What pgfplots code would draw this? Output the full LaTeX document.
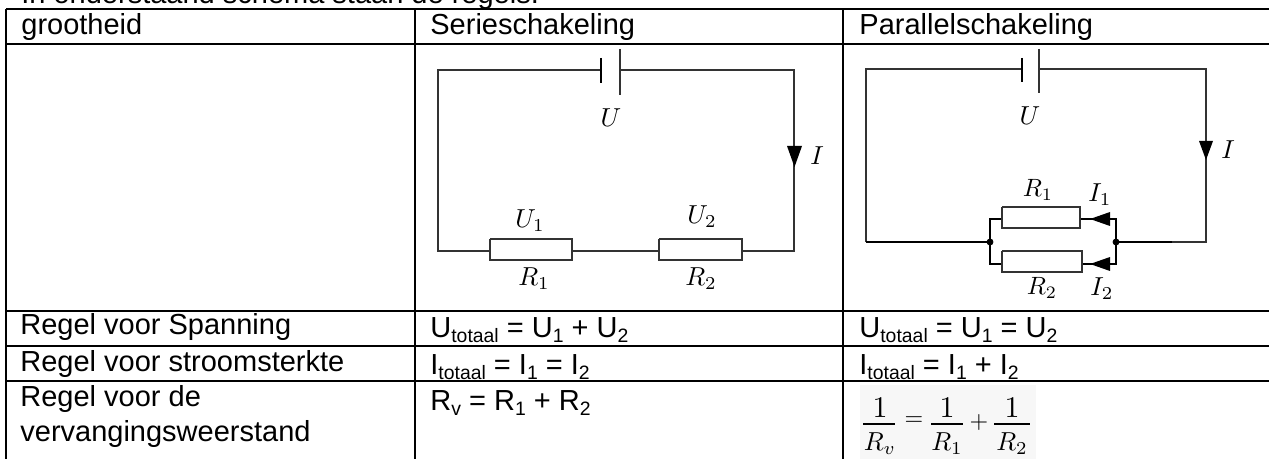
\documentclass[border=0pt]{standalone}
\usepackage{fontspec}
\setmainfont{Liberation Sans}
\usepackage{pgfplots}
\pgfplotsset{compat=1.18}
\newcommand{\sub}[1]{\raisebox{-2.2pt}{\fontsize{9.7}{10}\selectfont #1}}
\definecolor{wire}{gray}{0.2}
\tikzset{txt/.style={anchor=base west, inner sep=0pt, text=black, font=\fontsize{14.5}{17}\selectfont},
	lab/.style={inner sep=0pt, scale=#1}}
\begin{document}
\begin{tikzpicture}
\useasboundingbox (0,0) rectangle (634.5pt,229.5pt);
\clip (0,0) rectangle (634.5pt,229.5pt);
\begin{axis}[
	scale only axis, width=634.5pt, height=229.5pt,
	xmin=0, xmax=1269, ymin=0, ymax=459, y dir=reverse,
	axis lines=none, clip=false,
]
% patch behind the pasted formula
\addplot[fill=black!3, draw=none] coordinates {(860,385) (1036,385) (1036,459) (860,459)};

% table rules
\addplot[black, line width=1pt] coordinates {(6,9) (1269,9)};
\addplot[black, line width=1pt] coordinates {(6,44) (1269,44)};
\addplot[black, line width=1pt] coordinates {(6,311) (1269,311)};
\addplot[black, line width=1pt] coordinates {(6,346) (1269,346)};
\addplot[black, line width=1pt] coordinates {(6,381) (1269,381)};
\addplot[black, line width=1pt] coordinates {(6,9) (6,459)};
\addplot[black, line width=1pt] coordinates {(415,9) (415,459)};
\addplot[black, line width=1pt] coordinates {(843,9) (843,459)};

% series circuit
\addplot[wire, line width=.6pt] coordinates {(601,70) (438,70) (438,251) (490,251)};
\addplot[wire, line width=.6pt] coordinates {(620,70) (794,70) (794,251) (742,251)};
\addplot[wire, line width=.6pt] coordinates {(572,251) (659,251)};
\addplot[wire, line width=.7pt] coordinates {(490,239) (572,239) (572,260) (490,260) (490,239)};
\addplot[wire, line width=.7pt] coordinates {(659,239) (742,239) (742,260) (659,260) (659,239)};
\addplot[black, line width=1.2pt] coordinates {(601,58) (601,83)};
\addplot[wire, line width=.6pt] coordinates {(620,49) (620,95)};
\addplot[fill=black, draw=none] coordinates {(787,146) (802,146) (794.5,167)};

% parallel circuit
\addplot[wire, line width=.7pt] coordinates {(1022,69) (866,69) (866,242)};
\addplot[black, line width=.8pt] coordinates {(866,242) (990,242)};
\addplot[wire, line width=.7pt] coordinates {(1039,69) (1206,69) (1206,242) (1172,242)};
\addplot[black, line width=.8pt] coordinates {(1172,242) (1116,242)};
\addplot[black, line width=.8pt] coordinates {(1002,219) (990,219) (990,264) (1002,264)};
\addplot[black, line width=.8pt] coordinates {(1080,219) (1116,219) (1116,264) (1082,264)};
\addplot[wire, line width=.7pt] coordinates {(1002,207) (1080,207) (1080,228) (1002,228) (1002,207)};
\addplot[wire, line width=.7pt] coordinates {(1002,251) (1082,251) (1082,272) (1002,272) (1002,251)};
\addplot[black, line width=1.2pt] coordinates {(1022,58) (1022,82)};
\addplot[wire, line width=.7pt] coordinates {(1039,49) (1039,93)};
\addplot[fill=black, draw=none] coordinates {(1199,141) (1213,141) (1206,160)};
\addplot[fill=black, draw=none] coordinates {(1110,212) (1110,226) (1090,219)};
\addplot[fill=black, draw=none] coordinates {(1110,257) (1110,271) (1090,264)};
\addplot[only marks, mark=*, mark size=1.5pt, black] coordinates {(990,242) (1116,242)};

% fraction bars
\addplot[black, line width=.6pt] coordinates {(863,424) (895,424)};
\addplot[black, line width=.6pt] coordinates {(931,424) (963,424)};
\addplot[black, line width=.6pt] coordinates {(994,424) (1030,424)};

% texts
\node[txt] at (axis cs:21,4) {In onderstaand schema staan de regels:};
\node[txt] at (axis cs:21,35) {grootheid};
\node[txt] at (axis cs:430,35) {Serieschakeling};
\node[txt] at (axis cs:859,35) {Parallelschakeling};
\node[txt] at (axis cs:20,335) {Regel voor Spanning};
\node[txt] at (axis cs:20,372) {Regel voor stroomsterkte};
\node[txt] at (axis cs:20,407) {Regel voor de};
\node[txt] at (axis cs:20,442) {vervangingsweerstand};
\node[txt] at (axis cs:430,338) {U\sub{totaal} = U\sub{1} + U\sub{2}};
\node[txt] at (axis cs:430,375) {I\sub{totaal} = I\sub{1} = I\sub{2}};
\node[txt] at (axis cs:430,411) {R\sub{v} = R\sub{1} + R\sub{2}};
\node[txt] at (axis cs:859,338) {U\sub{totaal} = U\sub{1} = U\sub{2}};
\node[txt] at (axis cs:859,375) {I\sub{totaal} = I\sub{1} + I\sub{2}};

% circuit labels
\node[lab=1.3] at (axis cs:611,118) {$U$};
\node[lab=1.3] at (axis cs:817,156) {$I$};
\node[lab=1.3] at (axis cs:530,221) {$U_1$};
\node[lab=1.3] at (axis cs:702,217) {$U_2$};
\node[lab=1.3] at (axis cs:534,279) {$R_1$};
\node[lab=1.3] at (axis cs:701,279) {$R_2$};
\node[lab=1.3] at (axis cs:1030,116) {$U$};
\node[lab=1.3] at (axis cs:1228,150) {$I$};
\node[lab=1.25] at (axis cs:1038,190) {$R_1$};
\node[lab=1.3] at (axis cs:1100,195) {$I_1$};
\node[lab=1.25] at (axis cs:1042,288) {$R_2$};
\node[lab=1.3] at (axis cs:1102,289) {$I_2$};

% formula
\node[lab=1.5] at (axis cs:880,408) {$1$};
\node[lab=1.5] at (axis cs:947,408) {$1$};
\node[lab=1.5] at (axis cs:1012,408) {$1$};
\node[lab=1.3] at (axis cs:880,444) {$R_v$};
\node[lab=1.3] at (axis cs:947,444) {$R_1$};
\node[lab=1.3] at (axis cs:1012,444) {$R_2$};
\node[lab=1.2] at (axis cs:914,421) {$=$};
\node[lab=1.2] at (axis cs:979,423) {$+$};
\end{axis}
\end{tikzpicture}
\end{document}
